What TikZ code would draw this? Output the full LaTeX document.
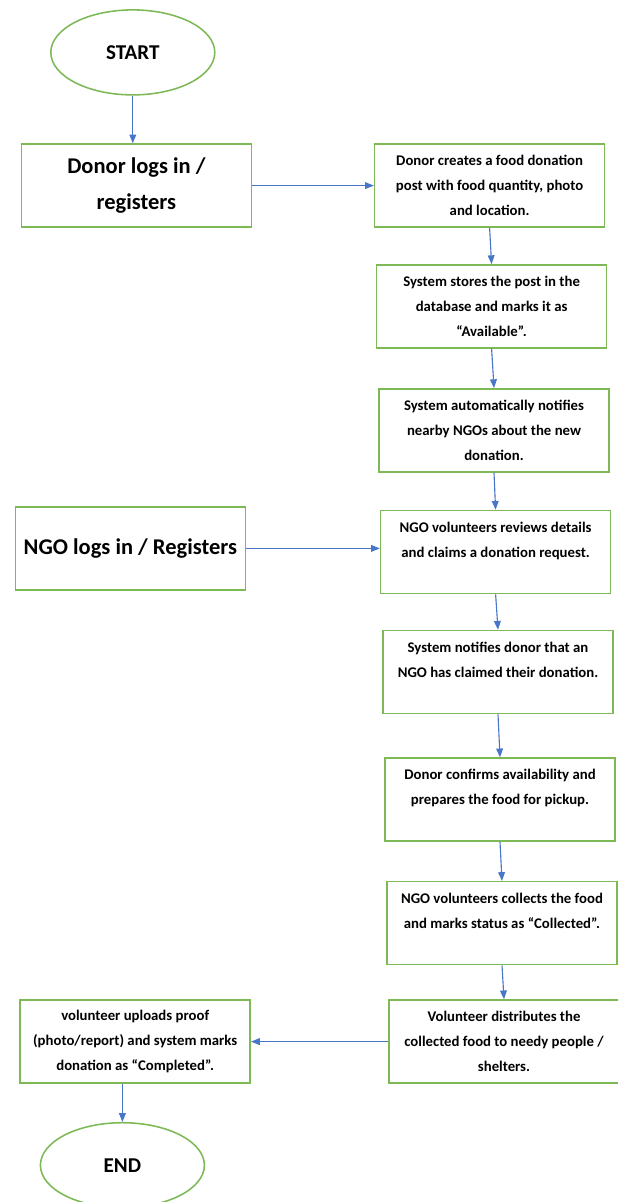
\documentclass[tikz,border=0pt]{standalone}
\usepackage{fontspec}
\setmainfont{Carlito}
\usetikzlibrary{arrows.meta,shapes.geometric}
\definecolor{boxgreen}{RGB}{125,185,85}
\definecolor{flowblue}{RGB}{72,118,200}
\tikzset{
    flow diagram/.style = {>={Triangle[length=2.2mm,width=1.7mm]}},
    line/.style         = {draw=flowblue, line width=0.8pt},
    block/.style        = {draw=boxgreen, line width=1.1pt, fill=white, align=center,
                           minimum width=5.75cm, minimum height=2.075cm,
                           font=\bfseries\fontsize{10.5}{17.8}\selectfont},
    bigblock/.style     = {block, font=\bfseries\fontsize{16}{25.6}\selectfont},
    terminal/.style     = {draw=boxgreen, line width=1.1pt, ellipse, fill=white,
                           minimum width=4.1cm, minimum height=2.125cm,
                           font=\bfseries\fontsize{15}{18}\selectfont}
}
\def\blankline{\\\mbox{}}

\begin{document}
\begin{tikzpicture}[flow diagram]
\useasboundingbox (0,0) rectangle (15.45,-30.05);

\node[terminal] (start) at (3.32,-1.31) {START};
\node[bigblock] (donor) at (3.41,-4.64) {Donor logs in /\\registers};
\node[block] (post) at (12.24,-4.64)
    {Donor creates a food donation\\post with food quantity, photo\\and location.};
\node[block] (store) at (12.29,-7.66)
    {System stores the post in the\\database and marks it as\\``Available''.};
\node[block] (notify) at (12.35,-10.76)
    {System automatically notifies\\nearby NGOs about the new\\donation.};
\node[bigblock] (ngo) at (3.26,-13.71) {NGO logs in / Registers};
\node[block] (claim) at (12.39,-13.8)
    {NGO volunteers reviews details\\and claims a donation request.\blankline};
\node[block] (informed) at (12.45,-16.8)
    {System notifies donor that an\\NGO has claimed their donation.\blankline};
\node[block] (confirm) at (12.5,-19.99)
    {Donor confirms availability and\\prepares the food for pickup.\blankline};
\node[block] (collect) at (12.55,-23.08)
    {NGO volunteers collects the food\\and marks status as ``Collected''.\blankline};
\node[block] (distribute) at (12.6,-26.04)
    {Volunteer distributes the\\collected food to needy people /\\shelters.};
\node[block] (proof) at (3.38,-26.04)
    {volunteer uploads proof\\(photo/report) and system marks\\donation as ``Completed''.};
\node[terminal] (finish) at (3.06,-29.13) {END};

\draw[->,line] (start.south) -- (start.south |- donor.north);
\draw[->,line] (donor.east) -- (post.west);
\foreach \from/\to in {post/store,store/notify,notify/claim,claim/informed,
                       informed/confirm,confirm/collect,collect/distribute}
    \draw[->,line] (\from.south) -- (\to.north);
\draw[->,line] (ngo.east) -- (ngo.east -| claim.west);
\draw[->,line] (distribute.west) -- (proof.east);
\draw[->,line] (proof.south -| finish.north) -- (finish.north);
\end{tikzpicture}
\end{document}
